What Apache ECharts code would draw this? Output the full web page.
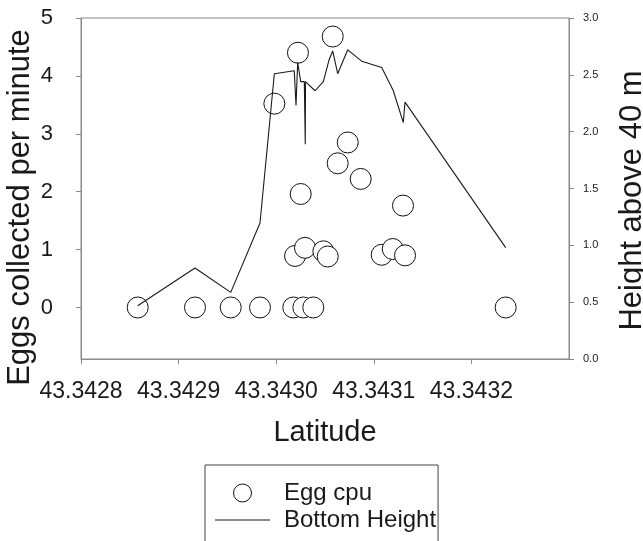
<!DOCTYPE html>
<html>
<head>
<meta charset="utf-8">
<script src="https://cdn.jsdelivr.net/npm/echarts@6/dist/echarts.min.js"></script>
<style>html,body{margin:0;padding:0;background:#fff;}#c{width:643px;height:541px;}</style>
</head>
<body>
<div id="c"></div>
<script>
// Egg cpu (left axis)
const eggLat = [43.3428581, 43.3429168, 43.3429534, 43.3429834, 43.3429981, 43.3430223, 43.3430251, 43.3430193, 43.3430295, 43.3430175, 43.3430278, 43.3430380, 43.3430579, 43.3430733, 43.3430630, 43.3430866, 43.3431299, 43.3430483, 43.3430528, 43.3431081, 43.3431194, 43.3431320, 43.3432351];
const eggVal = [0, 0, 0, 0, 3.52, 4.40, 1.96, 0.89, 1.03, 0, 0, 0, 4.68, 2.85, 2.49, 2.22, 1.76, 0.97, 0.88, 0.91, 1.01, 0.90, 0];
// Bottom Height (right axis)
const heightLat = [43.3428581, 43.3429168, 43.3429534, 43.3429834, 43.3429981, 43.3430185, 43.3430203, 43.3430220, 43.3430251, 43.3430288, 43.3430298, 43.3430300, 43.3430398, 43.3430483, 43.3430541, 43.3430579, 43.3430630, 43.3430733, 43.3430876, 43.3431081, 43.3431200, 43.3431302, 43.3431320, 43.3432351];
const heightVal = [0.469, 0.80, 0.586, 1.196, 2.51, 2.536, 2.23, 2.61, 2.44, 2.44, 1.89, 2.44, 2.36, 2.44, 2.63, 2.71, 2.51, 2.72, 2.62, 2.565, 2.36, 2.08, 2.26, 0.98];
// ticks
const xTicks = [43.3428, 43.3429, 43.3430, 43.3431, 43.3432];
const leftTicks = [0, 1, 2, 3, 4, 5];

const FONT = 'Liberation Sans, Arial, Helvetica, sans-serif';
const AX = '#8a8a8a';
const TXT = '#1a1a1a';

const chart = echarts.init(document.getElementById('c'), null, {renderer: 'canvas'});
chart.setOption({
  animation: false,
  backgroundColor: '#fff',
  grid: {left: 81, right: 74, top: 18, bottom: 182, outerBoundsMode: 'none', containLabel: false,
    show: true, borderColor: AX, borderWidth: 1, backgroundColor: 'transparent'},
  legend: {
    orient: 'vertical', left: 205, top: 465, height: 300,
    padding: [16, 2, 40, 10],
    borderColor: '#444', borderWidth: 1,
    itemWidth: 55, itemHeight: 18, itemGap: 3,
    textStyle: {fontFamily: FONT, fontSize: 24, color: TXT, lineHeight: 24, padding: [0, 0, 0, 9]},
    data: [
      {name: 'Egg cpu', icon: 'circle', itemStyle: {color: '#fff', borderColor: '#111', borderWidth: 1}},
      {name: 'Bottom Height', icon: 'path://M0,0 L55,0 L55,1.2 L0,1.2 Z', itemStyle: {color: '#1a1a1a', borderWidth: 0}}
    ]
  },
  xAxis: {
    type: 'value', min: 43.3428, max: 43.3433,
    name: 'Latitude', nameLocation: 'middle', nameGap: 59,
    nameTextStyle: {fontFamily: FONT, fontSize: 29, color: TXT},
    axisLine: {show: true, onZero: false, lineStyle: {color: AX, width: 1}},
    axisTick: {show: true, length: 5, customValues: xTicks, lineStyle: {color: AX}},
    axisLabel: {customValues: xTicks, margin: 21, fontFamily: FONT, fontSize: 23, color: TXT,
      formatter: v => v.toFixed(4)},
    splitLine: {show: false}
  },
  yAxis: [
    {
      type: 'value', position: 'left', min: -0.89, max: 5,
      name: 'Eggs collected per minute', nameLocation: 'middle', nameRotate: 90, nameGap: 45,
      nameMoveOverlap: false,
      nameTextStyle: {fontFamily: FONT, fontSize: 31, color: TXT, padding: [0, 38, 0, 0]},
      axisLine: {show: true, onZero: false, lineStyle: {color: AX, width: 1}},
      axisTick: {show: true, length: 5, customValues: leftTicks, lineStyle: {color: AX}},
      axisLabel: {customValues: leftTicks, margin: 28, fontFamily: FONT, fontSize: 22, color: TXT},
      splitLine: {show: false}
    },
    {
      type: 'value', position: 'right', min: 0, max: 3, interval: 0.5,
      name: 'Height above 40 m', nameLocation: 'middle', nameRotate: 90, nameGap: 48,
      nameTextStyle: {fontFamily: FONT, fontSize: 31, color: TXT, padding: [0, 24, 0, 0]},
      axisLine: {show: true, onZero: false, lineStyle: {color: AX, width: 1}},
      axisTick: {show: true, length: 5, lineStyle: {color: AX}},
      axisLabel: {margin: 14, fontFamily: FONT, fontSize: 11, color: TXT, formatter: v => v.toFixed(1)},
      splitLine: {show: false}
    }
  ],
  series: [
    {
      name: 'Egg cpu', type: 'scatter', yAxisIndex: 0,
      symbol: 'circle', symbolSize: 21,
      itemStyle: {color: '#fff', borderColor: '#111', borderWidth: 1, opacity: 1},
      data: eggLat.map((x, i) => [x, eggVal[i]]),
      z: 2
    },
    {
      name: 'Bottom Height', type: 'line', yAxisIndex: 1,
      symbol: 'none',
      lineStyle: {color: '#1a1a1a', width: 1.1},
      itemStyle: {color: '#1a1a1a'},
      data: heightLat.map((x, i) => [x, heightVal[i]]),
      z: 3
    }
  ]
});
</script>
</body>
</html>
